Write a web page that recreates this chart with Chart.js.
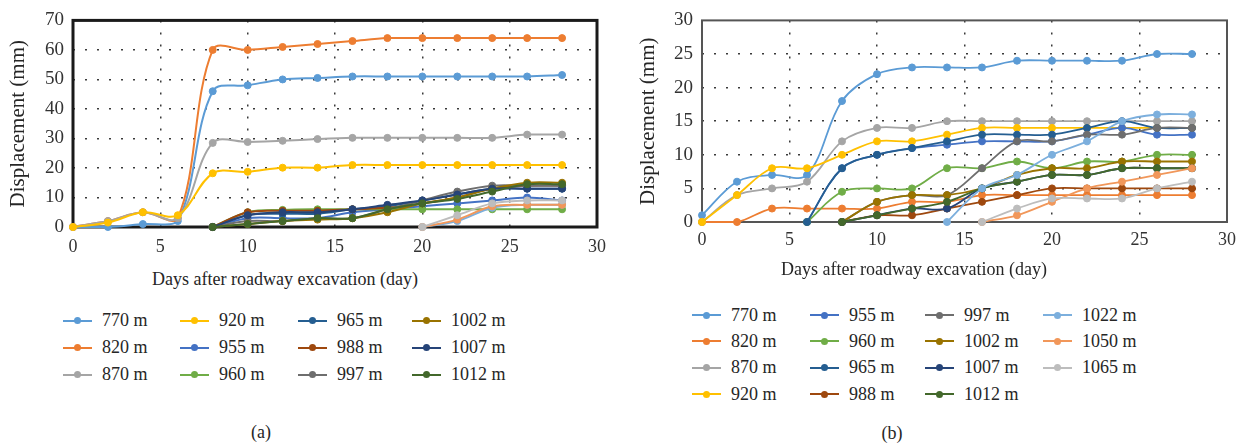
<!DOCTYPE html>
<html>
<head>
<meta charset="utf-8">
<script src="https://cdn.jsdelivr.net/npm/chart.js@4.4.0/dist/chart.umd.min.js"></script>
<style>
  html, body { margin: 0; padding: 0; background: #fff; }
  body { width: 1245px; height: 446px; position: relative; overflow: hidden;
         font-family: "Liberation Serif", "Times New Roman", serif; color: #262626; }
  .panel { position: absolute; top: 0; }
  .txt { position: absolute; white-space: nowrap; transform: translate(-50%, -50%); font-size: 18px; }
  .legend { position: absolute; display: grid; grid-auto-flow: column; font-size: 18px; }
  .item { display: flex; align-items: center; white-space: nowrap; }
  .swatch { position: relative; width: 29px; height: 2px; margin-right: 10px; }
  .swatch i { position: absolute; left: 11px; top: -2.5px; width: 7px; height: 7px; border-radius: 50%; background: inherit; }
</style>
</head>
<body>
<canvas id="chartA" class="panel" style="left:0" width="615" height="265"></canvas>
<canvas id="chartB" class="panel" style="left:630px" width="615" height="265"></canvas>

<div class="txt" style="left:285px; top:279px">Days after roadway excavation (day)</div>
<div class="txt" style="left:914px; top:269px">Days after roadway excavation (day)</div>
<div id="legendA" class="legend" style="left:63px; top:307px; grid-template-rows: repeat(3, 27px); grid-template-columns: 117px 118px 114px auto;"></div>
<div id="legendB" class="legend" style="left:692px; top:302px; grid-template-rows: repeat(4, 26.3px); grid-template-columns: 118px 115px 118px auto;"></div>
<div class="txt" style="left:261px; top:432px">(a)</div>
<div class="txt" style="left:892px; top:433px">(b)</div>

<script>
// days after excavation (x values shared by every series)
const days = [0, 2, 4, 6, 8, 10, 12, 14, 16, 18, 20, 22, 24, 26, 28];
const xTicks = [0, 5, 10, 15, 20, 25, 30];

// (a) displacement, mm
const a770  = [0, 0, 1, 2, 46, 48, 50, 50.5, 51, 51, 51, 51, 51, 51, 51.5];
const a820  = [0, 2, 5, 3, 60, 60, 61, 62, 63, 64, 64, 64, 64, 64, 64];
const a870  = [0, 2, 5, 3, 28.5, 28.8, 29.2, 29.8, 30.2, 30.2, 30.2, 30.2, 30.2, 31.3, 31.3];
const a920  = [0, 1.5, 5, 4, 18.2, 18.7, 20.1, 20.1, 21, 21, 21, 21, 21, 21, 21];
const a955  = [null, null, null, null, 0, 3, 3, 3, 5, 6, 7, 8, 9, 10, 9];
const a960  = [null, null, null, null, 0, 5, 5.8, 6, 6, 6, 6, 6, 6, 6, 6];
const a965  = [null, null, null, null, 0, 4, 4.5, 4.5, 6, 7, 9, 11, 13, 13, 13];
const a988  = [null, null, null, null, 0, 5, 5.5, 5.5, 6, 6.5, 8, 10, 13, 14, 14];
const a997  = [null, null, null, null, 0, 2, 2, 3, 3, 6, 9, 12, 14, 14, 14];
const a1002 = [null, null, null, null, 0, 1, 2, 2.5, 3, 5, 8, 10, 13, 15, 15];
const a1007 = [null, null, null, null, 0, 4, 5, 5, 6, 7.5, 9, 11, 13, 13, 13];
const a1012 = [null, null, null, null, 0, 1, 2, 3, 3, 6, 8, 9.5, 12, 14.5, 14.5];
const a1022 = [null, null, null, null, null, null, null, null, null, null, 0, 2, 6.5, 7.5, 7.5];
const a1050 = [null, null, null, null, null, null, null, null, null, null, 0, 2.5, 7, 7.5, 7.5];
const a1065 = [null, null, null, null, null, null, null, null, null, null, 0, 4, 8, 9, 9];

// (b) displacement, mm
const b770  = [1, 6, 7, 7, 18, 22, 23, 23, 23, 24, 24, 24, 24, 25, 25];
const b820  = [0, 0, 2, 2, 2, 2, 3, 3, 4, 4, 4, 4, 4, 4, 4];
const b870  = [0, 4, 5, 6, 12, 14, 14, 15, 15, 15, 15, 15, 15, 15, 15];
const b920  = [0, 4, 8, 8, 10, 12, 12, 13, 14, 14, 14, 14, 14, 14, 14];
const b955  = [null, null, null, 0, 8, 10, 11, 11.5, 12, 12, 12, 13, 14, 13, 13];
const b960  = [null, null, null, 0, 4.5, 5, 5, 8, 8, 9, 8, 9, 9, 10, 10];
const b965  = [null, null, null, 0, 8, 10, 11, 12, 13, 13, 13, 14, 15, 14, 14];
const b988  = [null, null, null, null, 0, 1, 1, 2, 3, 4, 5, 5, 5, 5, 5];
const b997  = [null, null, null, null, 0, 3, 4, 4, 8, 12, 12, 13, 13, 14, 14];
const b1002 = [null, null, null, null, 0, 3, 4, 4, 5, 7, 8, 8, 9, 9, 9];
const b1007 = [null, null, null, null, 0, 1, 2, 2, 5, 6, 7, 7, 8, 8, 8];
const b1012 = [null, null, null, null, 0, 1, 2, 3, 5, 6, 7, 7, 8, 8, 8];
const b1022 = [null, null, null, null, null, null, null, 0, 5, 7, 10, 12, 15, 16, 16];
const b1050 = [null, null, null, null, null, null, null, null, 0, 1, 3, 5, 6, 7, 8];
const b1065 = [null, null, null, null, null, null, null, null, 0, 2, 3.5, 3.5, 3.5, 5, 6];

const names = ['770 m', '820 m', '870 m', '920 m', '955 m', '960 m', '965 m', '988 m',
               '997 m', '1002 m', '1007 m', '1012 m', '1022 m', '1050 m', '1065 m'];
const seriesA = [a770, a820, a870, a920, a955, a960, a965, a988, a997, a1002, a1007, a1012, a1022, a1050, a1065];
const seriesB = [b770, b820, b870, b920, b955, b960, b965, b988, b997, b1002, b1007, b1012, b1022, b1050, b1065];
// (a)'s legend leaves out the last three series
const legendNamesA = names.slice(0, 12);
const legendNamesB = names;

const colors = ['#5B9BD5', '#ED7D31', '#A5A5A5', '#FFC000', '#4472C4', '#70AD47', '#255E91', '#9E480E',
                '#6E6E6E', '#997300', '#264478', '#43682B', '#7CAFDD', '#F1975A', '#BDBDBD'];

const FONT = "'Liberation Serif', serif";
Chart.defaults.font.family = FONT;

const framePlugin = {
    id: 'frame',
    beforeDatasetsDraw(chart, args, opts) {
        const { left, top, right, bottom } = chart.chartArea;
        const ctx = chart.ctx;
        ctx.save();
        ctx.strokeStyle = opts.color;
        ctx.lineWidth = opts.width;
        ctx.strokeRect(left, top, right - left, bottom - top);
        ctx.restore();
    }
};

function toPoints(vals) {
    return days.map((d, i) => ({ x: d, y: vals[i] })).filter((p) => p.y !== null);
}

function buildChart(id, series, cfg) {
    const datasets = series.map((vals, i) => ({
        label: names[i],
        data: toPoints(vals),
        borderColor: colors[i],
        backgroundColor: colors[i],
        borderWidth: cfg.lineWidth,
        pointRadius: cfg.radius,
        pointBorderWidth: 1,
        pointBackgroundColor: colors[i],
        pointBorderColor: colors[i],
        tension: 0.35,
        clip: false,
        order: -i
    }));
    const gridColor = (max) => (ctx) =>
        (ctx.tick.value === 0 || ctx.tick.value === max) ? 'rgba(0,0,0,0)' : '#3a3a3a';
    return new Chart(document.getElementById(id), {
        type: 'line',
        data: { datasets },
        plugins: [framePlugin],
        options: {
            responsive: false,
            animation: false,
            events: [],
            layout: { padding: { top: 18, right: cfg.padRight, left: 0, bottom: 0 } },
            plugins: {
                legend: { display: false },
                tooltip: { enabled: false },
                frame: { color: cfg.frameColor, width: cfg.frameWidth }
            },
            scales: {
                x: {
                    type: 'linear', min: 0, max: 30,
                    afterBuildTicks: (s) => { s.ticks = xTicks.map((v) => ({ value: v })); },
                    ticks: { padding: cfg.xPad, color: '#333', font: { family: FONT, size: 18 } },
                    grid: { drawTicks: false, color: gridColor(30), lineWidth: 1.5 },
                    border: { display: false, dash: [2, 10] },
                    afterFit: (s) => { s.height = cfg.xHeight; }
                },
                y: {
                    min: 0, max: cfg.yMax,
                    ticks: { stepSize: cfg.yStep, padding: 9, color: '#333', font: { family: FONT, size: 19 } },
                    grid: { drawTicks: false, color: gridColor(cfg.yMax), lineWidth: 1.5 },
                    border: { display: false, dash: [2, 10] },
                    title: { display: true, text: 'Displacement (mm)', color: '#262626',
                             font: { family: FONT, size: 21 }, padding: { top: 6, bottom: 0 } },
                    afterFit: (s) => { s.width = cfg.yWidth; }
                }
            }
        }
    });
}

function buildLegend(elId, legendNames) {
    const el = document.getElementById(elId);
    legendNames.forEach((name) => {
        const c = colors[names.indexOf(name)];
        const item = document.createElement('div');
        item.className = 'item';
        item.innerHTML = '<span class="swatch" style="background:' + c + '"><i></i></span>' + name;
        el.appendChild(item);
    });
}

buildChart('chartA', seriesA, {
    yMax: 70, yStep: 10, yWidth: 73, xHeight: 38, xPad: 9, padRight: 14,
    lineWidth: 2, radius: 3.5, frameColor: '#1a1a1a', frameWidth: 3
});
buildChart('chartB', seriesB, {
    yMax: 30, yStep: 5, yWidth: 72, xHeight: 43, xPad: 7, padRight: 18,
    lineWidth: 1.8, radius: 3.5, frameColor: '#555', frameWidth: 2
});
buildLegend('legendA', legendNamesA);
buildLegend('legendB', legendNamesB);
</script>
</body>
</html>
